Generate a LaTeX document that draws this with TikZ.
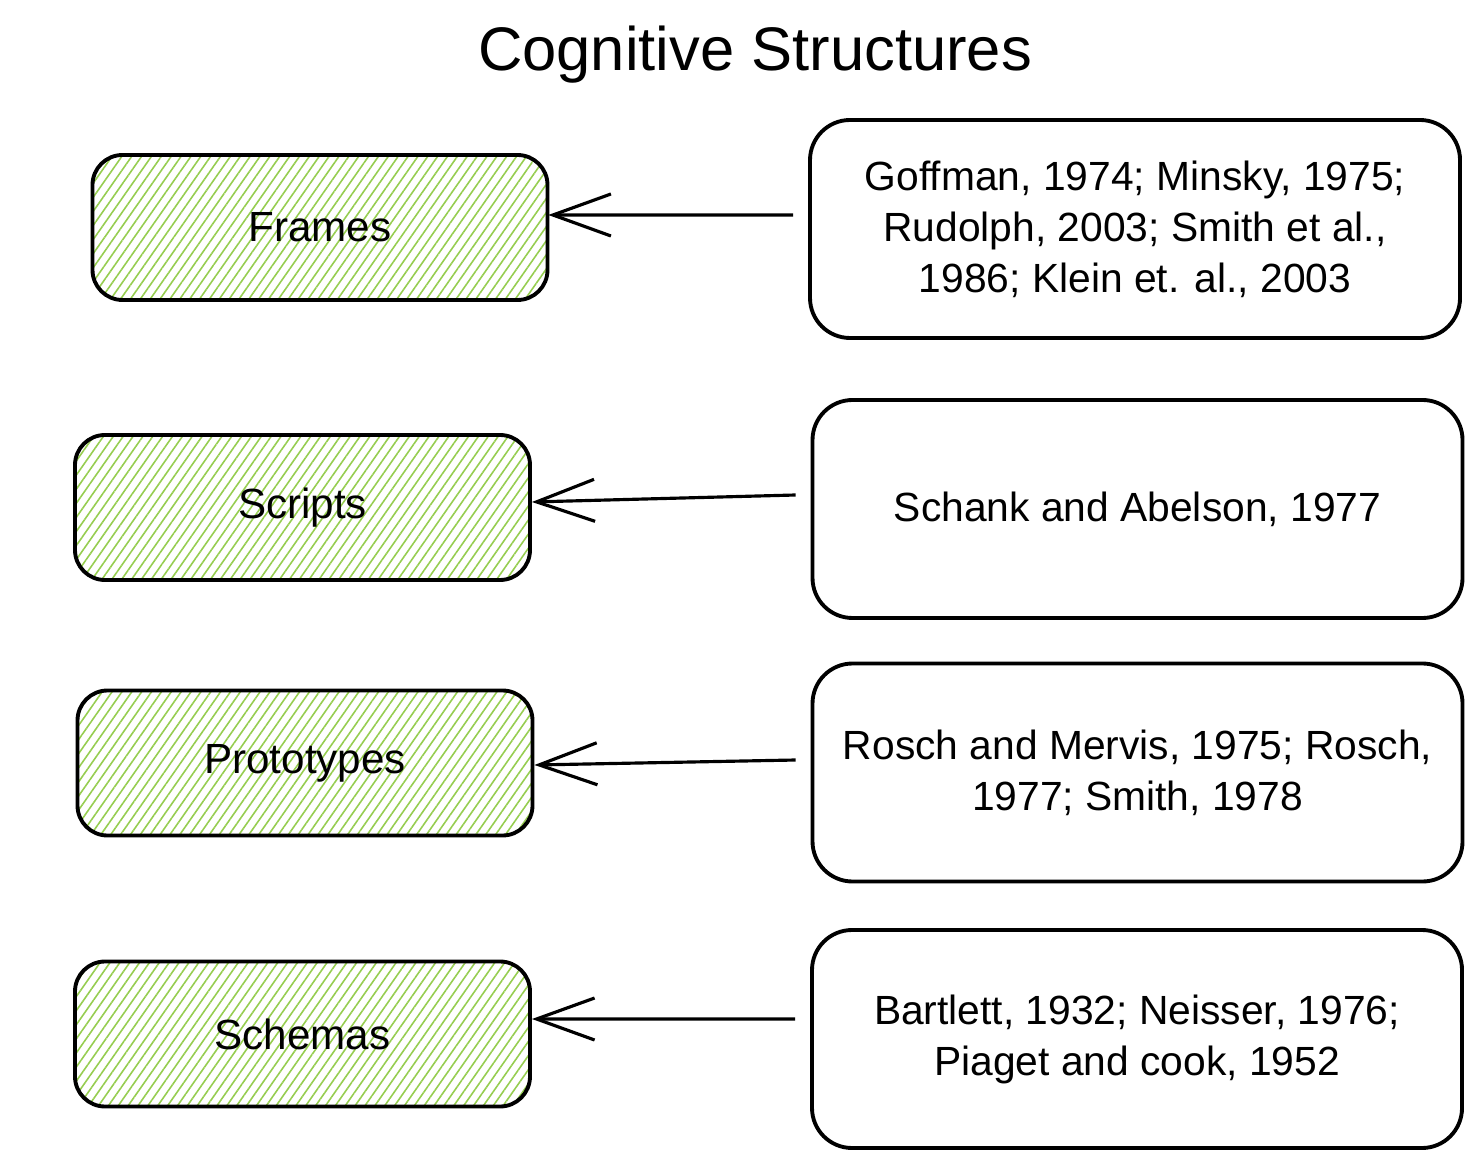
\documentclass[tikz,border=0pt]{standalone}
\usepackage{fontspec}
\setmainfont{Liberation Sans}
\usepackage{xcolor}
\usepackage{tikz}
\usetikzlibrary{arrows.meta,positioning,patterns.meta}
\definecolor{hatchgreen}{RGB}{150,205,80}

\begin{document}
\begin{tikzpicture}[
    concept/.style={draw,line width=1.1pt,rounded corners=0.3cm,
      minimum width=4.55cm,minimum height=1.45cm,
      pattern={Lines[angle=55,distance=2.3pt,line width=0.45pt]},pattern color=hatchgreen,
      font=\fontsize{12}{14}\selectfont},
    source/.style={draw,line width=1.1pt,rounded corners=0.4cm,
      minimum width=6.5cm,minimum height=2.18cm,align=center,
      font=\fontsize{11.6}{14.5}\selectfont},
    cite/.style={-{Straight Barb[length=5.8mm,width=4.2mm,line width=0.9pt]},line width=0.9pt}
  ]
    \useasboundingbox (0,0) rectangle (14.82,-11.76);

    % Title
    \node (title) at (7.55,-0.55) {\fontsize{17.5}{20}\selectfont Cognitive Structures};

    % Left column: the structures
    \node[concept] (frames) at (3.20,-2.275) {Frames};
    \node[concept] (scripts) at (3.025,-5.075) {Scripts};
    \node[concept] (prototypes) at (3.05,-7.63) {Prototypes};
    \node[concept] (schemas) at (3.025,-10.34) {Schemas};

    % Right column: the references
    \node[source] (refFrames) at (11.35,-2.29)
      {Goffman, 1974; Minsky, 1975;\\Rudolph, 2003; Smith et al.,\\1986; Klein et. al., 2003};
    \node[source] (refScripts) at (11.375,-5.09) {Schank and Abelson, 1977};
    \node[source] (refPrototypes) at (11.375,-7.725)
      {Rosch and Mervis, 1975; Rosch,\\1977; Smith, 1978};
    \node[source] (refSchemas) at (11.37,-10.39)
      {Bartlett, 1932; Neisser, 1976;\\Piaget and cook, 1952};

    % Arrows from references to structures
    \draw[cite] ([xshift=-1.5mm,yshift=1.4mm]refFrames.west) -- ([yshift=1.25mm]frames.east);
    \draw[cite] ([xshift=-1.5mm,yshift=1.4mm]refScripts.west) -- ([yshift=0.55mm]scripts.east);
    \draw[cite] ([xshift=-1.5mm,yshift=1.25mm]refPrototypes.west) -- ([yshift=-0.2mm]prototypes.east);
    \draw[cite] ([xshift=-1.5mm,yshift=2mm]refSchemas.west) -- ([yshift=1.5mm]schemas.east);
\end{tikzpicture}
\end{document}
